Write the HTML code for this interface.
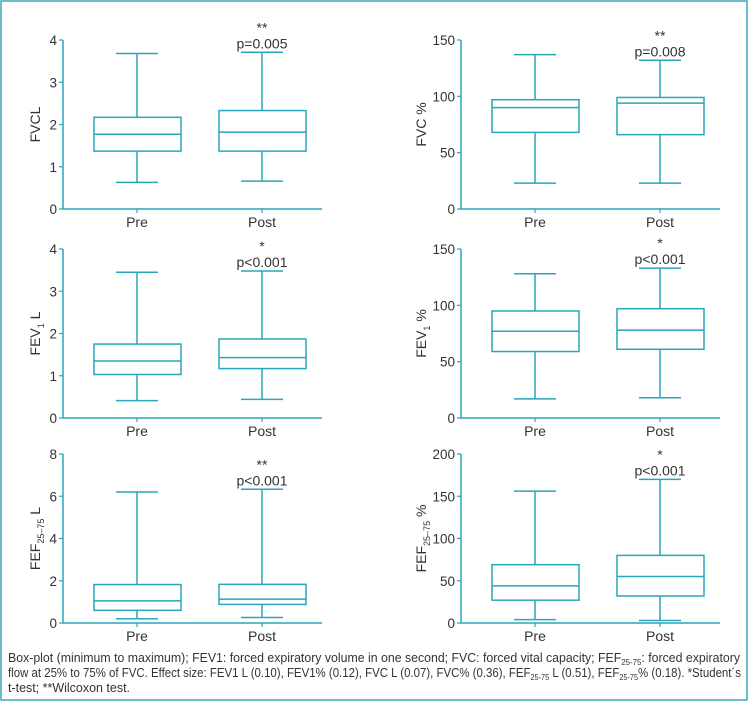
<!DOCTYPE html>
<html><head><meta charset="utf-8"><style>
html,body{margin:0;padding:0;background:#fff}
svg{display:block;font-family:"Liberation Sans",sans-serif}
</style></head><body>
<svg id="fig" width="749" height="702" viewBox="0 0 749 702">
<rect x="1" y="1" width="746" height="699" fill="#fff" stroke="#3aa9bb" stroke-width="1.5"/>
<g id="panels"></g>
<g fill="#333" font-size="12.5">
<text x="8" y="662" textLength="732" lengthAdjust="spacingAndGlyphs">Box-plot (minimum to maximum); FEV1: forced expiratory volume in one second; FVC: forced vital capacity; FEF<tspan font-size="8" dy="3">25-75</tspan><tspan dy="-3">: forced expiratory</tspan></text>
<text x="8" y="677" textLength="733" lengthAdjust="spacingAndGlyphs">flow at 25% to 75% of FVC. Effect size: FEV1 L (0.10), FEV1% (0.12), FVC L (0.07), FVC% (0.36), FEF<tspan font-size="8" dy="3">25-75</tspan><tspan dy="-3"> L (0.51), FEF</tspan><tspan font-size="8" dy="3">25-75</tspan><tspan dy="-3">% (0.18). *Student´s</tspan></text>
<text x="8" y="692" textLength="122" lengthAdjust="spacingAndGlyphs">t-test; **Wilcoxon test.</text>
</g>
</svg>
<script>
const categories = ["Pre", "Post"];
const panelNames = ["fvc-l", "fvc-pct", "fev1-l", "fev1-pct", "fef-l", "fef-pct"];
const yMax = [4, 150, 4, 150, 8, 200];
const yTicks = [[0,1,2,3,4],[0,50,100,150],[0,1,2,3,4],[0,50,100,150],[0,2,4,6,8],[0,50,100,150,200]];
// [min, q1, median, q3, max] for Pre, Post
const preStats = [[0.63,1.37,1.77,2.17,3.68],[23,68,90,97,137],[0.41,1.03,1.35,1.75,3.45],[17,59,77,95,128],[0.2,0.6,1.05,1.82,6.2],[4,27,44,69,156]];
const postStats = [[0.66,1.37,1.82,2.33,3.71],[23,66,94,99,132],[0.44,1.17,1.43,1.87,3.48],[18,61,78,97,133],[0.26,0.88,1.13,1.83,6.33],[3,32,55,80,170]];
const pLabels = ["p=0.005","p=0.008","p<0.001","p<0.001","p<0.001","p<0.001"];
const stars = ["**","**","*","*","**","*"];
const titles = [["FVCL",""],["FVC %",""],["FEV","1"," L"],["FEV","1"," %"],["FEF","25–75"," L"],["FEF","25–75"," %"]];

const NS="http://www.w3.org/2000/svg";
const C="#2aa6b9";
const root=document.getElementById("panels");
function mk(tag,attrs,parent){const e=document.createElementNS(NS,tag);for(const k in attrs)e.setAttribute(k,attrs[k]);parent.appendChild(e);return e;}
const tops=[40,249,454];
for(let i=0;i<6;i++){
  const col=i%2,row=Math.floor(i/2);
  const x0=col?461:63, x1=x0+259, yT=tops[row], yB=yT+169;
  const yS=v=>yB-(v/yMax[i])*(yB-yT);
  const xS=j=>x0+74+j*125;
  const g=mk("g",{},root);
  
  
  const ax=mk("path",{d:`M${x0},${yT}V${yB}H${x1}`,stroke:C,"stroke-width":1.5,fill:"none"},g);
  
  
  yTicks[i].forEach(t=>{
    const y=yS(t);
    const tk=mk("line",{x1:x0-4,x2:x0,y1:y,y2:y,stroke:C,"stroke-width":1.2},g);
    
    
    const tl=mk("text",{x:x0-6,y:y+5,"text-anchor":"end","font-size":13.5,fill:"#333"},g);
    tl.textContent=t;
    
    
  });
  const tx = col ? x0-35 : x0-23;
  const tt=mk("text",{transform:`translate(${tx},${(yT+yB)/2}) rotate(-90)`,"text-anchor":"middle","font-size":14,fill:"#333"},g);
  
  
  const T=titles[i];
  if(T.length===2){tt.textContent=T[0];}
  else{
    const a=mk("tspan",{},tt);a.textContent=T[0];
    const b=mk("tspan",{"font-size":9,dy:4},tt);b.textContent=T[1];
    const c=mk("tspan",{dy:-4},tt);c.textContent=T[2];
  }
  [preStats[i],postStats[i]].forEach((s,j)=>{
    const cx=xS(j);
    const xt=mk("line",{x1:cx,x2:cx,y1:yB,y2:yB+4,stroke:C,"stroke-width":1.2},g);
    
    
    const cl=mk("text",{x:cx,y:yB+18,"text-anchor":"middle","font-size":14,fill:"#333"},g);
    cl.textContent=categories[j];
    
    
    const bg=mk("g",{stroke:C,"stroke-width":1.5,fill:"none"},g);
    
    
    mk("line",{x1:cx,x2:cx,y1:yS(s[0]),y2:yS(s[1])},bg);
    mk("line",{x1:cx,x2:cx,y1:yS(s[3]),y2:yS(s[4])},bg);
    mk("line",{x1:cx-21,x2:cx+21,y1:yS(s[0]),y2:yS(s[0])},bg);
    mk("line",{x1:cx-21,x2:cx+21,y1:yS(s[4]),y2:yS(s[4])},bg);
    mk("rect",{x:cx-43,y:yS(s[3]),width:87,height:yS(s[1])-yS(s[3])},bg);
    mk("line",{x1:cx-43,x2:cx+44,y1:yS(s[2]),y2:yS(s[2])},bg);
    if(j===1){
      const capY=yS(s[4]);
      const p=mk("text",{x:cx,y:capY-4,"text-anchor":"middle","font-size":14,fill:"#333"},g);
      p.textContent=pLabels[i];
      
      
      const st=mk("text",{x:cx,y:capY-20,"text-anchor":"middle","font-size":14,fill:"#333"},g);
      st.textContent=stars[i];
      
      
    }
  });
}
</script>
</body></html>
